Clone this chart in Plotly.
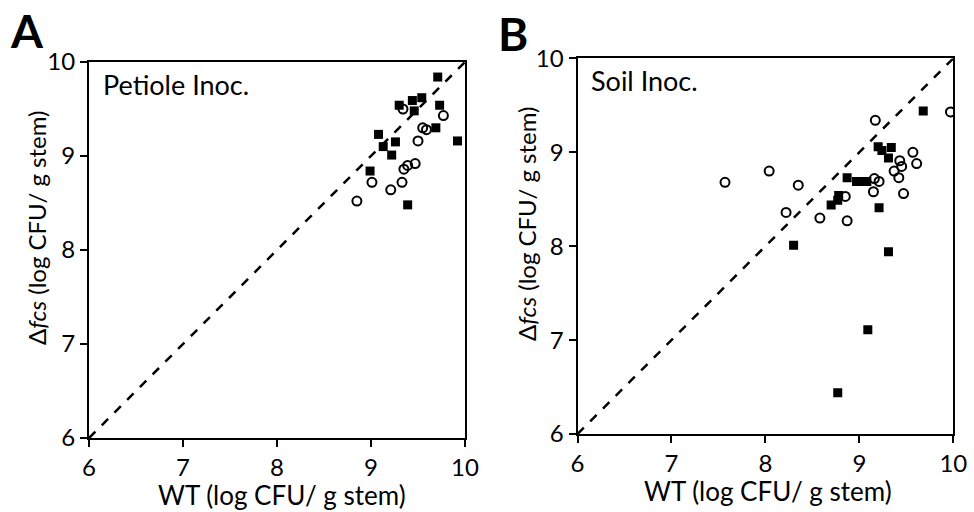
import plotly.graph_objects as go

# ---------------------------------------------------------------
# Data (log CFU / g stem)
# ---------------------------------------------------------------

# Panel A - Petiole Inoc.
petiole_sq_wt = [9.71, 9.30, 9.44, 9.54, 9.46, 9.73, 9.69, 9.92, 9.08, 9.13,
                 9.26, 9.22, 8.99, 9.39]
petiole_sq_mut = [9.84, 9.54, 9.59, 9.62, 9.48, 9.54, 9.30, 9.16, 9.23, 9.10,
                  9.15, 9.01, 8.84, 8.48]

petiole_circ_wt = [9.34, 9.77, 9.55, 9.59, 9.50, 9.47, 9.39, 9.35, 9.33, 9.21,
                   9.01, 8.85]
petiole_circ_mut = [9.50, 9.43, 9.30, 9.28, 9.16, 8.92, 8.90, 8.86, 8.72, 8.64,
                    8.72, 8.52]

# Panel B - Soil Inoc.
soil_sq_wt = [9.68, 9.20, 9.24, 9.34, 9.31, 8.87, 8.97, 9.03, 9.08, 8.78,
              8.77, 8.70, 9.21, 8.30, 9.31, 9.09, 8.77]
soil_sq_mut = [9.44, 9.06, 9.02, 9.05, 8.94, 8.73, 8.69, 8.69, 8.69, 8.54,
               8.49, 8.44, 8.41, 8.01, 7.94, 7.11, 6.44]

soil_circ_wt = [9.97, 9.17, 9.57, 9.43, 9.61, 9.45, 9.37, 9.42, 8.04, 8.35,
                9.16, 9.21, 9.15, 8.85, 9.47, 8.22, 8.58, 8.87, 7.57]
soil_circ_mut = [9.43, 9.34, 9.00, 8.91, 8.88, 8.85, 8.80, 8.73, 8.80, 8.65,
                 8.72, 8.69, 8.58, 8.53, 8.56, 8.36, 8.30, 8.27, 8.68]

identity = [6, 10]
ticks = [6, 7, 8, 9, 10]

FONT = "Lato"


# ---------------------------------------------------------------
# Figure
# ---------------------------------------------------------------

fig = go.Figure()

panels = [
    ("x", "y", petiole_sq_wt, petiole_sq_mut, petiole_circ_wt, petiole_circ_mut),
    ("x2", "y2", soil_sq_wt, soil_sq_mut, soil_circ_wt, soil_circ_mut),
]

for xa, ya, sq_x, sq_y, c_x, c_y in panels:

    fig.add_trace(
        go.Scatter(
            x=identity,
            y=identity,
            mode="lines",
            line=dict(color="black", width=2.5, dash="dash"),
            xaxis=xa,
            yaxis=ya,
            showlegend=False,
            hoverinfo="skip"
        )
    )

    fig.add_trace(
        go.Scatter(
            x=sq_x,
            y=sq_y,
            mode="markers",
            marker=dict(symbol="square", size=9, color="black"),
            xaxis=xa,
            yaxis=ya,
            showlegend=False
        )
    )

    fig.add_trace(
        go.Scatter(
            x=c_x,
            y=c_y,
            mode="markers",
            marker=dict(symbol="circle-open", size=9, color="black",
                        line=dict(width=2, color="black")),
            xaxis=xa,
            yaxis=ya,
            showlegend=False
        )
    )


axis_style = dict(
    range=[6, 10],
    tickvals=ticks,
    ticks="outside",
    ticklen=7,
    tickwidth=2,
    tickcolor="black",
    showline=True,
    linewidth=2,
    linecolor="black",
    mirror=True,
    showgrid=False,
    zeroline=False,
    automargin=False,
    tickfont=dict(family=FONT, size=24, color="black")
)

fig.update_layout(
    width=974,
    height=512,
    margin=dict(l=0, r=0, t=0, b=0),
    paper_bgcolor="white",
    plot_bgcolor="white",
    xaxis=dict(domain=[89 / 974, 465 / 974], anchor="y", **axis_style),
    yaxis=dict(domain=[1 - 438 / 512, 1 - 62 / 512], anchor="x", **axis_style),
    xaxis2=dict(domain=[577.5 / 974, 953.3 / 974], anchor="y2", **axis_style),
    yaxis2=dict(domain=[1 - 434 / 512, 1 - 58.4 / 512], anchor="x2", **axis_style),
)

# titles and labels
labels = [
    dict(text="<b>A</b>", x=27, y=30, size=46, anchor="center"),
    dict(text="<b>B</b>", x=513, y=33, size=46, anchor="center"),
    dict(text="Petiole Inoc.", x=101, y=84, size=27, anchor="left"),
    dict(text="Soil Inoc.", x=589, y=80, size=27, anchor="left"),
    dict(text="WT (log CFU/ g stem)", x=282, y=495, size=26, anchor="center"),
    dict(text="WT (log CFU/ g stem)", x=768, y=491, size=26, anchor="center"),
]

for lab in labels:
    fig.add_annotation(
        text=lab["text"],
        x=lab["x"] / 974,
        y=1 - lab["y"] / 512,
        xref="paper",
        yref="paper",
        showarrow=False,
        xanchor=lab["anchor"],
        yanchor="middle",
        font=dict(family=FONT, size=lab["size"], color="black")
    )

for xpos, ypos in [(36, 228), (526, 224)]:
    fig.add_annotation(
        text="\u0394<i>fcs</i> (log CFU/ g stem)",
        x=xpos / 974,
        y=1 - ypos / 512,
        xref="paper",
        yref="paper",
        showarrow=False,
        textangle=-90,
        xanchor="center",
        yanchor="middle",
        font=dict(family=FONT, size=24, color="black")
    )

# page body has a default 8px margin; drop it so the figure fills the window
fig.write_html(
    "out.html",
    config={"displayModeBar": False},
    post_script="document.body.style.margin='0';"
)
